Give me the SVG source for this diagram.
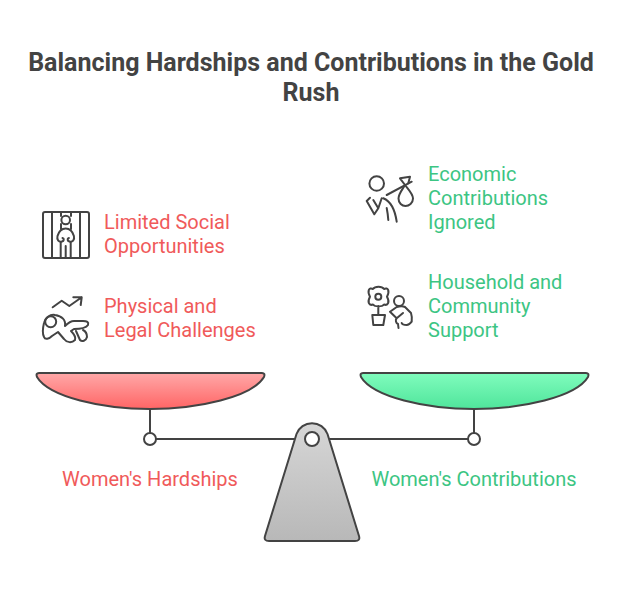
<svg xmlns="http://www.w3.org/2000/svg" width="624" height="600" viewBox="0 0 624 600">
<style>
text{font-family:Roboto,"Liberation Sans",sans-serif;font-size:20px}
.t{font-size:25px;font-weight:700;fill:#434343;font-family:Roboto,"Liberation Sans",sans-serif}
.r{fill:#f05a5a}
.g{fill:#3cc583}
.l{fill:none;stroke:#434343;stroke-width:2;stroke-linecap:round;stroke-linejoin:round}
.s{stroke:#434343;stroke-width:2;stroke-linejoin:round}
.c{fill:#fff;stroke:#434343;stroke-width:2}
</style>
<defs>
<linearGradient id="rg" x1="0" y1="0" x2="0" y2="1"><stop offset="0" stop-color="#ffa8a8"/><stop offset="1" stop-color="#ff6565"/></linearGradient>
<linearGradient id="gg" x1="0" y1="0" x2="0" y2="1"><stop offset="0" stop-color="#80fcbd"/><stop offset="1" stop-color="#4fe59b"/></linearGradient>
<linearGradient id="bg" x1="0" y1="0" x2="0" y2="1"><stop offset="0" stop-color="#d6d6d6"/><stop offset="1" stop-color="#b8b8b8"/></linearGradient>
</defs>
<g id="title">
<text class="t" x="311" y="71" text-anchor="middle">Balancing Hardships and Contributions in the Gold</text>
<text class="t" x="311" y="101" text-anchor="middle">Rush</text>
</g>
<g id="connectors">
<path class="l" d="M150 408V438M474 408V438M156 439H468" stroke-linecap="butt"/>
</g>
<g id="pan-left">
<path class="s" fill="url(#rg)" d="M39 373H262Q265.5 373 264 377C252 397 198 409 150 409C102 409 49 397 37 377Q35.500 373 39 373Z"/>
<circle class="c" cx="150" cy="439" r="6"/>
</g>
<g id="pan-right">
<path class="s" fill="url(#gg)" d="M363 373H586Q589.500 373 588 377C576 397 522 409 474 409C426 409 373 397 361 377Q359.500 373 363 373Z"/>
<circle class="c" cx="474" cy="439" r="6"/>
</g>
<g id="fulcrum">
<path class="s" fill="url(#bg)" d="M296.500 434A16.500 16.500 0 0 1 327.500 434L359 536Q360.500 541 355 541H269Q263.500 541 265 536Z"/>
<circle class="c" cx="312" cy="439" r="7"/>
</g>
<g id="hardships-label"><text class="r" x="150" y="486" text-anchor="middle">Women's Hardships</text></g>
<g id="contributions-label"><text class="g" x="474" y="486" text-anchor="middle">Women's Contributions</text></g>
<g id="limited-social">
<rect class="l" x="43" y="212" width="46" height="46" rx="2"/>
<path class="l" d="M52 212V258M61 212V216M71 212V216M80 212V258M61 224V229M71 224V229M60.700 242V258M65.700 246V258M70.700 242V258"/>
<circle class="l" cx="65.700" cy="220" r="4.300"/>
<path class="l" d="M65.700 228.500C61 228.500 59 231 57.500 236C56.500 240 59 242.500 62 241.500C64 241 64.500 238.500 62.500 238M65.700 228.500C70.400 228.500 72.400 231 73.900 236C74.900 240 72.400 242.500 69.400 241.500C67.400 241 66.900 238.500 68.900 238"/>
<text class="r"><tspan x="104" y="229">Limited Social</tspan><tspan x="104" y="253">Opportunities</tspan></text>
</g>
<g id="physical-legal">
<path class="l" d="M52.700 307.300L61.700 300.700L69.300 306L81.700 297.300M73.300 297.300H81.700L80.700 305"/>
<circle class="l" cx="50.700" cy="321.700" r="5.500"/>
<path class="l" d="M55 315C50 314 45 318 44 323C43 327 42 333 44 337C45 340 49 339 52 336L58 332L64 339C67 343 72 343 75 340C76 337 74 334 71 331L74 329C80 329 86 328 88 325C89 322 87 321 83 321H74C70 321 67 324 65 326C66 320 62 316 55 315ZM76 331L80 340C82 342 86 341 87 337C87 333 85 331 83 330"/>
<text class="r"><tspan x="104" y="313">Physical and</tspan><tspan x="104" y="337">Legal Challenges</tspan></text>
</g>
<g id="economic">
<circle class="l" cx="376.700" cy="183.500" r="7.300"/>
<path class="l" d="M386.700 195L411.700 181.700M370 197.700L366.700 201L374.300 214.300L378.300 208.300L381.700 198.300M373.300 200L378.300 208.300M383.300 198.300C390 201 395 210 396.700 221.700M386.700 208C387.500 212 388 216 388.300 220"/>
<path class="l" d="M405 185C409 190 413 194 413 198.500C413 203 409 206 405.500 206C402 206 398.500 203 398.500 198.500C398.500 194 402 190 405 185ZM405 185L400 178.300L410 176.700L408.300 183.300"/>
<text class="g"><tspan x="428" y="181">Economic</tspan><tspan x="428" y="205">Contributions</tspan><tspan x="428" y="229">Ignored</tspan></text>
</g>
<g id="household">
<circle class="l" cx="378.300" cy="296.700" r="3"/>
<path class="l" d="M373 289C375 286 382 286 384 289C388 287 390 291 387 296.700C390 302 388 306 384 304.500C382 307 375 307 373 304.500C369 306 367 302 370 296.700C367 291 369 287 373 289ZM378.300 306V315M372.300 315H385L383.300 325H373.300Z"/>
<circle class="l" cx="399" cy="301" r="5"/>
<path class="l" d="M390 311.700L396.700 307C400 306 403 306 405 307L411 313C412 316 412 319 411.700 321.700C410 324 408 325 406.700 325C404 325 402 324 401.700 323M390 311.700L396.700 318.300L403 313M396.700 318.300C395 320 396 323 398 324L398.500 328"/>
<text class="g"><tspan x="428" y="289">Household and</tspan><tspan x="428" y="313">Community</tspan><tspan x="428" y="337">Support</tspan></text>
</g>
</svg>
